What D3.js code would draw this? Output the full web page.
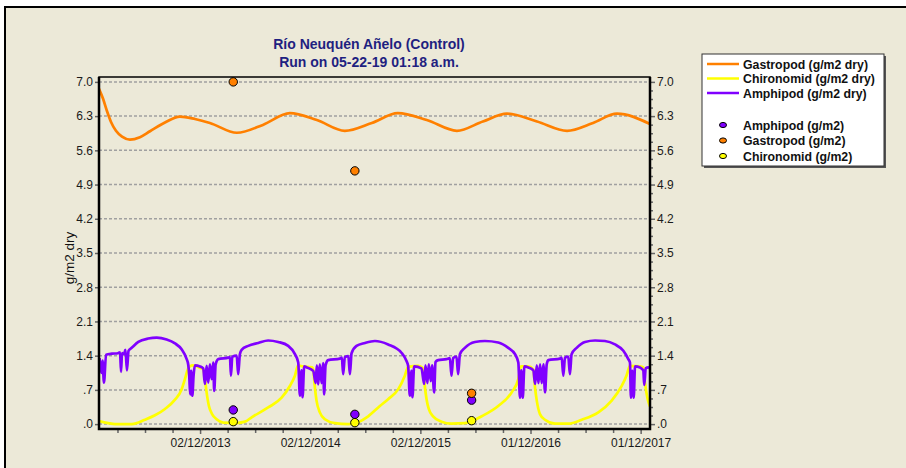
<!DOCTYPE html>
<html>
<head>
<meta charset="utf-8">
<script src="https://cdn.jsdelivr.net/npm/d3@7"></script>
<style>
  body { margin: 0; background: #fff; }
  svg { display: block; font-family: "Liberation Sans", Arial, sans-serif; }
</style>
</head>
<body>
<svg id="chart" width="906" height="468"></svg>
<script>
// ---- data (x as decimal year, y in g/m2) ----
const titleLines = ['Río Neuquén Añelo (Control)', 'Run on 05-22-19 01:18 a.m.'];
const yAxisTitle = 'g/m2 dry';

const xTickLabels = ['02/12/2013', '02/12/2014', '02/12/2015', '01/12/2016', '01/12/2017'];
const yTicks = [0, 0.7, 1.4, 2.1, 2.8, 3.5, 4.2, 4.9, 5.6, 6.3, 7.0];
const yTickLabels = ['.0', '.7', '1.4', '2.1', '2.8', '3.5', '4.2', '4.9', '5.6', '6.3', '7.0'];

const gastropodLine = [
  [2013.000, 6.86], [2013.036, 6.66], [2013.073, 6.40], [2013.109, 6.18], [2013.154, 6.00],
  [2013.209, 5.88], [2013.281, 5.82], [2013.372, 5.87], [2013.463, 5.99], [2013.599, 6.17],
  [2013.735, 6.29], [2013.871, 6.24], [2014.007, 6.16], [2014.252, 5.96], [2014.488, 6.12],
  [2014.733, 6.36], [2014.978, 6.22], [2015.232, 6.00], [2015.477, 6.16], [2015.713, 6.36],
  [2015.976, 6.22], [2016.249, 6.00], [2016.484, 6.19], [2016.702, 6.35], [2016.974, 6.19],
  [2017.247, 6.00], [2017.483, 6.16], [2017.700, 6.35], [2018.000, 6.14]
];

const chironomidLine = [
  [2013.000, 0.06], [2013.082, 0.02], [2013.145, 0.00], [2013.299, 0.00], [2013.417, 0.09],
  [2013.508, 0.18], [2013.599, 0.31], [2013.690, 0.50], [2013.750, 0.71], [2013.780, 0.92],
  [2013.810, 1.14], [2013.844, 1.20], [2013.880, 1.19], [2013.916, 1.15], [2013.946, 1.12],
  [2013.962, 0.92], [2013.977, 0.65], [2013.998, 0.37], [2014.028, 0.20], [2014.068, 0.10],
  [2014.128, 0.03], [2014.234, 0.02], [2014.325, 0.05], [2014.386, 0.14], [2014.536, 0.34],
  [2014.658, 0.54], [2014.733, 0.78], [2014.779, 0.99], [2014.808, 1.20], [2014.851, 1.18],
  [2014.933, 1.16], [2014.945, 1.12], [2014.960, 0.75], [2014.975, 0.48], [2015.005, 0.24],
  [2015.051, 0.10], [2015.141, 0.02], [2015.262, 0.00], [2015.353, 0.04], [2015.444, 0.16],
  [2015.550, 0.37], [2015.625, 0.51], [2015.716, 0.71], [2015.777, 0.99], [2015.807, 1.17],
  [2015.897, 1.19], [2015.943, 1.14], [2015.958, 0.78], [2015.974, 0.51], [2015.994, 0.31],
  [2016.033, 0.16], [2016.110, 0.05], [2016.200, 0.01], [2016.321, 0.02], [2016.382, 0.06],
  [2016.473, 0.16], [2016.623, 0.37], [2016.745, 0.65], [2016.805, 0.92], [2016.829, 1.18],
  [2016.893, 1.18], [2016.941, 1.12], [2016.956, 0.75], [2016.972, 0.48], [2017.002, 0.20],
  [2017.047, 0.09], [2017.138, 0.01], [2017.258, 0.01], [2017.380, 0.09], [2017.531, 0.24],
  [2017.652, 0.48], [2017.743, 0.78], [2017.788, 1.00], [2017.818, 1.19], [2017.909, 1.18],
  [2017.939, 1.16], [2017.954, 0.85], [2017.979, 0.51], [2018.000, 0.36]
];

const amphipodLine = [
  [2013.005, 1.35], [2013.023, 1.05], [2013.032, 1.30], [2013.045, 0.85], [2013.064, 1.42],
  [2013.118, 1.44], [2013.172, 1.45], [2013.191, 1.47], [2013.200, 1.07], [2013.209, 1.45],
  [2013.227, 1.43], [2013.240, 1.52], [2013.254, 1.10], [2013.268, 1.50], [2013.297, 1.56],
  [2013.357, 1.68], [2013.447, 1.75], [2013.524, 1.77], [2013.614, 1.73], [2013.690, 1.65],
  [2013.750, 1.53], [2013.796, 1.33], [2013.810, 1.22], [2013.819, 1.00], [2013.828, 0.61],
  [2013.837, 1.09], [2013.847, 0.58], [2013.859, 1.00], [2013.871, 1.20], [2013.916, 1.18],
  [2013.946, 1.14], [2013.962, 0.82], [2013.977, 1.19], [2013.992, 0.85], [2014.007, 1.22],
  [2014.023, 0.92], [2014.037, 1.26], [2014.046, 0.68], [2014.059, 1.22], [2014.083, 1.33],
  [2014.173, 1.36], [2014.189, 1.37], [2014.198, 0.99], [2014.210, 1.38], [2014.250, 1.40],
  [2014.264, 1.02], [2014.279, 1.43], [2014.295, 1.52], [2014.355, 1.60], [2014.446, 1.66],
  [2014.536, 1.71], [2014.627, 1.68], [2014.718, 1.60], [2014.779, 1.43], [2014.809, 1.26],
  [2014.824, 0.58], [2014.839, 1.10], [2014.848, 0.55], [2014.863, 1.18], [2014.887, 1.16],
  [2014.945, 1.09], [2014.967, 0.84], [2014.978, 1.20], [2014.990, 0.81], [2015.005, 1.22],
  [2015.021, 0.84], [2015.035, 1.25], [2015.044, 0.61], [2015.057, 1.20], [2015.081, 1.31],
  [2015.187, 1.34], [2015.205, 1.36], [2015.217, 1.02], [2015.232, 1.37], [2015.264, 1.39],
  [2015.278, 1.02], [2015.293, 1.45], [2015.338, 1.60], [2015.414, 1.66], [2015.505, 1.70],
  [2015.625, 1.63], [2015.746, 1.46], [2015.792, 1.29], [2015.807, 1.19], [2015.822, 0.58],
  [2015.837, 1.09], [2015.846, 0.55], [2015.861, 1.18], [2015.928, 1.14], [2015.952, 0.82],
  [2015.964, 1.20], [2015.982, 0.84], [2015.994, 1.22], [2016.013, 0.88], [2016.024, 1.20],
  [2016.043, 0.65], [2016.055, 1.27], [2016.079, 1.31], [2016.155, 1.33], [2016.185, 1.35],
  [2016.200, 0.99], [2016.215, 1.35], [2016.245, 1.38], [2016.260, 1.02], [2016.276, 1.43],
  [2016.321, 1.56], [2016.412, 1.68], [2016.503, 1.70], [2016.623, 1.67], [2016.714, 1.56],
  [2016.775, 1.43], [2016.805, 1.26], [2016.820, 0.54], [2016.832, 1.10], [2016.845, 0.54],
  [2016.860, 1.18], [2016.896, 1.16], [2016.941, 1.10], [2016.957, 0.82], [2016.972, 1.20],
  [2016.987, 0.84], [2017.002, 1.22], [2017.017, 0.84], [2017.032, 1.22], [2017.047, 0.65],
  [2017.062, 1.22], [2017.077, 1.31], [2017.183, 1.34], [2017.198, 1.36], [2017.213, 0.99],
  [2017.228, 1.36], [2017.258, 1.38], [2017.273, 1.02], [2017.288, 1.43], [2017.334, 1.56],
  [2017.410, 1.68], [2017.501, 1.71], [2017.591, 1.70], [2017.682, 1.63], [2017.758, 1.50],
  [2017.803, 1.33], [2017.818, 1.26], [2017.827, 0.54], [2017.839, 1.09], [2017.852, 0.54],
  [2017.864, 1.18], [2017.909, 1.16], [2017.939, 1.10], [2017.948, 0.80], [2017.961, 1.14],
  [2017.985, 1.16], [2018.000, 1.14]
];

// field samples
const sampleYears = [2014.219, 2015.323, 2016.382];
const amphipodSamples = [0.29, 0.20, 0.49];
const gastropodSamples = [7.00, 5.18, 0.63];
const chironomidSamples = [0.05, 0.03, 0.07];

const lineSeries = [
  { name: 'Gastropod (g/m2 dry)', color: '#ff8000', data: gastropodLine },
  { name: 'Chironomid (g/m2 dry)', color: '#ffff00', data: chironomidLine },
  { name: 'Amphipod (g/m2 dry)', color: '#8000ff', data: amphipodLine }
];
const pointSeries = [
  { name: 'Amphipod (g/m2)', color: '#8000ff', data: amphipodSamples },
  { name: 'Gastropod (g/m2)', color: '#ff8000', data: gastropodSamples },
  { name: 'Chironomid (g/m2)', color: '#ffff00', data: chironomidSamples }
];

// decimal year -> Date
function toDate(t) {
  const yr = Math.floor(t);
  const a = new Date(yr, 0, 1).getTime(), b = new Date(yr + 1, 0, 1).getTime();
  return new Date(a + (t - yr) * (b - a));
}

const svg = d3.select('#chart');
const plot = { left: 99, right: 650, top: 77, bottom: 429 };

// background + window frame
svg.append('rect').attr('x', 5).attr('y', 7).attr('width', 920).attr('height', 480)
  .attr('fill', '#ece9d8').attr('stroke', '#000').attr('stroke-width', 2);

const x = d3.scaleTime().domain([toDate(2013), toDate(2018)]).range([plot.left, plot.right]);
const y = d3.scaleLinear().domain([-0.1, 7.1]).range([plot.bottom, plot.top]);

// grid
svg.append('g').selectAll('line').data(yTicks).join('line')
  .attr('x1', plot.left).attr('x2', plot.right)
  .attr('y1', d => y(d)).attr('y2', d => y(d))
  .attr('stroke', '#a0a0a0').attr('stroke-width', 1.5).attr('stroke-dasharray', '3,2');

// x ticks: yearly labels + quarterly minor ticks
const parseTick = d3.timeParse('%d/%m/%Y');
const majorDates = xTickLabels.map(parseTick);
const day = 864e5;
const minorDates = [];
majorDates.forEach((d, i) => {
  for (let k = -3; k <= 3; k++) {
    if (k === 0 || (i > 0 && k < 0)) continue;
    const m = new Date(d.getTime() + k * 365 / 4 * day);
    if (m >= x.domain()[0] && m <= x.domain()[1]) minorDates.push(m);
  }
});

const xMinor = svg.append('g').attr('transform', `translate(0,${plot.bottom})`)
  .call(d3.axisBottom(x).tickValues(minorDates).tickSize(4).tickFormat(''));
const xMajor = svg.append('g').attr('transform', `translate(0,${plot.bottom})`)
  .call(d3.axisBottom(x).tickValues(majorDates).tickSize(5).tickPadding(4)
    .tickFormat((d, i) => xTickLabels[i]));

// y axes
const yMinor = [];
for (let i = 0; i < yTicks.length - 1; i++) {
  for (let k = 1; k < 4; k++) yMinor.push(yTicks[i] + (yTicks[i + 1] - yTicks[i]) * k / 4);
}
const yLeft = svg.append('g').attr('transform', `translate(${plot.left},0)`)
  .call(d3.axisLeft(y).tickValues(yTicks).tickSize(4).tickPadding(2)
    .tickFormat((d, i) => yTickLabels[i]));
const yRightMinor = svg.append('g').attr('transform', `translate(${plot.right},0)`)
  .call(d3.axisRight(y).tickValues(yMinor).tickSize(3).tickFormat(''));
const yRight = svg.append('g').attr('transform', `translate(${plot.right},0)`)
  .call(d3.axisRight(y).tickValues(yTicks).tickSize(5).tickPadding(2)
    .tickFormat((d, i) => yTickLabels[i]));

[xMinor, xMajor, yLeft, yRightMinor, yRight].forEach(g => {
  g.select('.domain').remove();
  g.selectAll('.tick line').attr('stroke', '#666').attr('stroke-width', 1.5);
  g.selectAll('.tick text').attr('fill', '#1a1a1a').style('font-size', '12px');
});

// lines
svg.append('clipPath').attr('id', 'clip').append('rect')
  .attr('x', plot.left).attr('y', plot.top)
  .attr('width', plot.right - plot.left).attr('height', plot.bottom - plot.top);

const line = d3.line().curve(d3.curveMonotoneX)
  .x(d => x(toDate(d[0]))).y(d => y(d[1]));

svg.append('g').attr('clip-path', 'url(#clip)')
  .selectAll('path').data(lineSeries).join('path')
  .attr('d', s => line(s.data))
  .attr('fill', 'none').attr('stroke', s => s.color)
  .attr('stroke-width', 2.7).attr('stroke-linejoin', 'round');

// sample points
pointSeries.forEach(s => {
  svg.append('g').selectAll('circle').data(s.data).join('circle')
    .attr('cx', (d, i) => x(toDate(sampleYears[i])))
    .attr('cy', d => y(d))
    .attr('r', 4.2)
    .attr('fill', s.color).attr('stroke', '#000').attr('stroke-width', 1);
});

// plot frame
svg.append('rect').attr('x', plot.left).attr('y', plot.top)
  .attr('width', plot.right - plot.left).attr('height', plot.bottom - plot.top)
  .attr('fill', 'none').attr('stroke', '#000').attr('stroke-width', 1.5);
svg.append('path')
  .attr('d', `M${plot.left},${plot.top}V${plot.bottom}H${plot.right}V${plot.top}`)
  .attr('fill', 'none').attr('stroke', '#000').attr('stroke-width', 2.5);

// titles
svg.append('g').selectAll('text').data(titleLines).join('text')
  .attr('x', 369).attr('y', (d, i) => 49 + i * 18)
  .attr('text-anchor', 'middle')
  .attr('fill', '#1f1f80').style('font-size', '14px').style('font-weight', 'bold')
  .text(d => d);

svg.append('text')
  .attr('transform', 'translate(69,258) rotate(-90)')
  .attr('text-anchor', 'middle').attr('dominant-baseline', 'central')
  .attr('fill', '#111').style('font-size', '13.5px')
  .text(yAxisTitle);

// legend
const lg = svg.append('g').attr('transform', 'translate(702,54)');
lg.append('rect').attr('x', 2).attr('y', 2).attr('width', 182).attr('height', 112).attr('fill', '#555');
lg.append('rect').attr('width', 182).attr('height', 112)
  .attr('fill', '#fff').attr('stroke', '#333').attr('stroke-width', 1);

const lineRows = lg.selectAll('g.lrow').data(lineSeries).join('g')
  .attr('transform', (d, i) => `translate(0,${10 + i * 14.5})`);
lineRows.append('line').attr('x1', 5).attr('x2', 37)
  .attr('stroke', d => d.color).attr('stroke-width', 2.5);
lineRows.append('text').attr('x', 41).attr('y', 4.5)
  .attr('fill', '#111').style('font-size', '12.3px').style('font-weight', 'bold')
  .text(d => d.name);

const ptRows = lg.selectAll('g.prow').data(pointSeries).join('g')
  .attr('transform', (d, i) => `translate(0,${71 + i * 15.5})`);
ptRows.append('ellipse').attr('cx', 21).attr('rx', 3.5).attr('ry', 2.6)
  .attr('fill', d => d.color).attr('stroke', '#000').attr('stroke-width', 1);
ptRows.append('text').attr('x', 41).attr('y', 4.5)
  .attr('fill', '#111').style('font-size', '12.3px').style('font-weight', 'bold')
  .text(d => d.name);
</script>
</body>
</html>
